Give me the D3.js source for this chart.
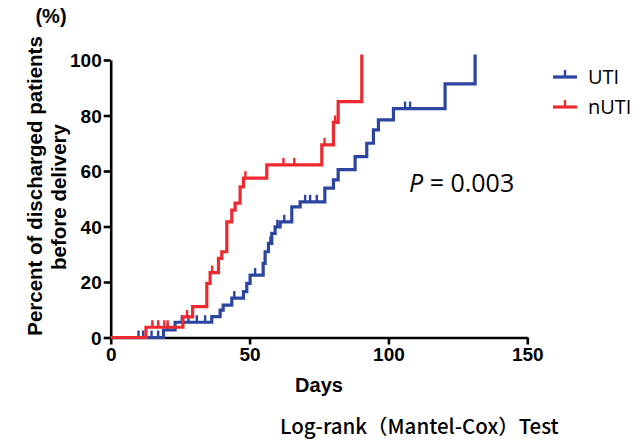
<!DOCTYPE html>
<html>
<head>
<meta charset="utf-8">
<script src="https://cdn.jsdelivr.net/npm/d3@7"></script>
<style>
  body { margin: 0; background: #fff; }
  svg { display: block; }
</style>
</head>
<body>
<div id="chart"></div>
<script>
// step events: [day, cumulative %]
const utiSteps = [
  [0, 0], [19, 2.7], [23.2, 5.5], [36.4, 7.5], [39.4, 9.9], [40.5, 11.7],
  [43.6, 14.2], [47.8, 16.5], [49, 19.5], [50.2, 22.5], [54.9, 26.7],
  [55.6, 30.9], [56.8, 33.9], [58, 37.5], [59.2, 39.9], [61, 41.7],
  [65.2, 47.1], [68.2, 48.9], [77.1, 53.8], [80.2, 56.8], [81.9, 60.5],
  [88, 65.2], [92.2, 70], [94.6, 74.8], [96.4, 78.4], [101.8, 82.5],
  [120.4, 91.4], [131.2, 102]
];
const nutiSteps = [
  [0, 0], [12.7, 3.7], [26, 7.4], [29.5, 11.1], [34.6, 19.5], [35.8, 23.4],
  [38.8, 28.5], [40, 30.9], [41.8, 41.7], [43.6, 45.9], [44.8, 48.4],
  [46.6, 54.3], [47.8, 57.4], [56.2, 62.2], [76, 69.4], [80.2, 77.5],
  [81.9, 85], [90.4, 102]
];
// censored days
const utiCensor = [10, 11.7, 14.7, 17.1, 20.5, 25.6, 28, 31, 34, 44.5, 52, 57.5, 60, 62.5, 70, 71.8, 74.2, 106, 107.8];
const nutiCensor = [15, 17.1, 19.3, 20.5, 27.5, 36.5, 48.5, 62.2, 66.1, 77, 80.8];

const xTicks = [0, 50, 100, 150];
const yTicks = [0, 20, 40, 60, 80, 100];

const series = [
  {name: 'UTI', steps: utiSteps, censor: utiCensor, color: '#2b45a0'},
  {name: 'nUTI', steps: nutiSteps, censor: nutiCensor, color: '#ee2a30'}
];

const width = 644, height = 441;
const svg = d3.select('#chart').append('svg')
    .attr('width', width)
    .attr('height', height);

const x = d3.scaleLinear().domain([0, 150]).range([110.7, 527.3]);
const y = d3.scaleLinear().domain([0, 100]).range([337.5, 60]);

const boldFont = '"Liberation Sans", Arial, sans-serif';

// axes
const xAxis = svg.append('g')
    .attr('transform', `translate(0, ${y(0)})`)
    .call(d3.axisBottom(x).tickValues(xTicks).tickSize(7).tickSizeOuter(0).tickPadding(3));
const yAxis = svg.append('g')
    .attr('transform', `translate(${x(0)}, 0)`)
    .call(d3.axisLeft(y).tickValues(yTicks).tickSize(7).tickSizeOuter(0).tickPadding(2));

[xAxis, yAxis].forEach(ax => {
    ax.select('.domain').attr('stroke', '#000').attr('stroke-width', 2.6);
    ax.selectAll('.tick line').attr('stroke', '#000').attr('stroke-width', 2.6);
    ax.selectAll('.tick text')
        .attr('fill', '#000')
        .style('font-family', boldFont)
        .style('font-weight', 'bold')
        .style('font-size', '19px');
});
yAxis.selectAll('.tick text').attr('dy', '0.36em');

// curves
function valueAt(steps, t) {
    let v = 0;
    steps.forEach(s => { if (s[0] <= t) v = s[1]; });
    return v;
}

const line = d3.line()
    .x(d => x(d[0]))
    .y(d => y(d[1]))
    .curve(d3.curveStepAfter);

series.forEach(s => {
    svg.append('path')
        .datum(s.steps)
        .attr('d', line)
        .attr('fill', 'none')
        .attr('stroke', s.color)
        .attr('stroke-width', 3.2);

    svg.append('g').selectAll('line')
        .data(s.censor)
        .join('line')
        .attr('x1', d => x(d)).attr('x2', d => x(d))
        .attr('y1', d => y(valueAt(s.steps, d)))
        .attr('y2', d => y(valueAt(s.steps, d)) - 7)
        .attr('stroke', s.color)
        .attr('stroke-width', 2.4);
});

// legend
const legend = svg.append('g').attr('transform', 'translate(553, 77)');
series.forEach((s, i) => {
    const row = legend.append('g').attr('transform', `translate(0, ${i * 30})`);
    row.append('line')
        .attr('x1', 0).attr('x2', 24).attr('y1', 0).attr('y2', 0)
        .attr('stroke', s.color).attr('stroke-width', 3.2);
    row.append('line')
        .attr('x1', 12).attr('x2', 12).attr('y1', 0).attr('y2', -7)
        .attr('stroke', s.color).attr('stroke-width', 2.4);
    row.append('text')
        .attr('x', 35)
        .attr('y', 7)
        .attr('fill', '#000')
        .style('font-family', '"Open Sans", sans-serif')
        .style('font-size', '20px')
        .text(s.name);
});

// P value
const pText = svg.append('text')
    .attr('x', 409)
    .attr('y', 192)
    .attr('fill', '#000')
    .style('font-family', '"Open Sans", sans-serif')
    .style('font-size', '25px');
pText.append('tspan').style('font-style', 'italic').text('P');
pText.append('tspan').text(' = 0.003');

// axis titles
svg.append('text')
    .attr('x', x(75))
    .attr('y', 392)
    .attr('text-anchor', 'middle')
    .style('font-family', boldFont)
    .style('font-weight', 'bold')
    .style('font-size', '20px')
    .text('Days');

const yTitle = svg.append('text')
    .attr('transform', 'rotate(-90)')
    .attr('text-anchor', 'middle')
    .style('font-family', boldFont)
    .style('font-weight', 'bold')
    .style('font-size', '20.5px');
yTitle.append('tspan').attr('x', -186).attr('y', 42).text('Percent of discharged patients');
yTitle.append('tspan').attr('x', -197).attr('y', 66).text('before delivery');

svg.append('text')
    .attr('x', 51)
    .attr('y', 23)
    .attr('text-anchor', 'middle')
    .style('font-family', boldFont)
    .style('font-weight', 'bold')
    .style('font-size', '20px')
    .text('(%)');

svg.append('text')
    .attr('x', 280)
    .attr('y', 434)
    .style('font-family', '"Noto Sans CJK JP", sans-serif')
    .style('font-size', '20.5px')
    .style('font-weight', '500')
    .text('Log-rank（Mantel-Cox）Test');
</script>
</body>
</html>
